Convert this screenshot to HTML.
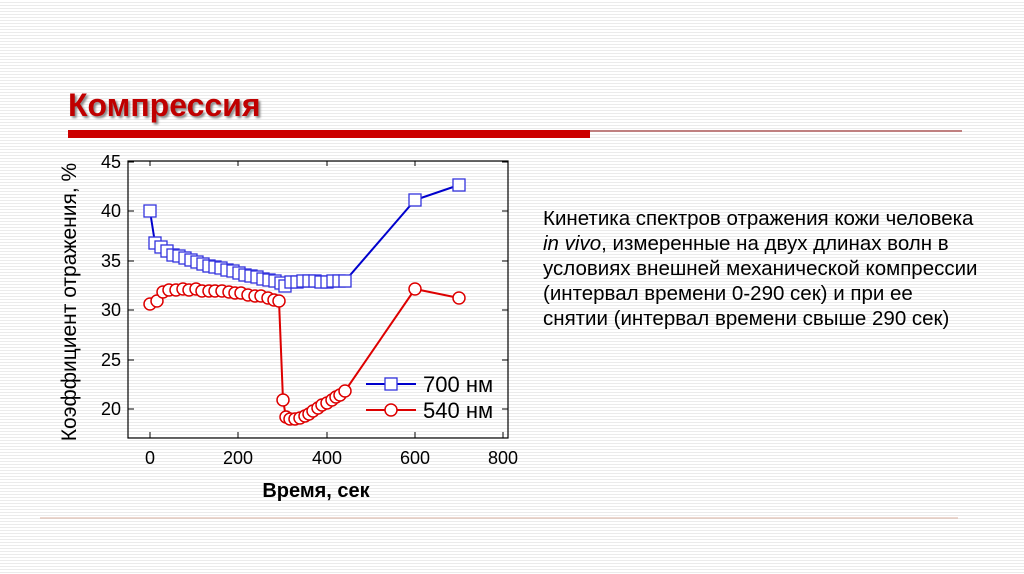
<!DOCTYPE html>
<html><head><meta charset="utf-8"><style>
body{margin:0;width:1024px;height:574px;overflow:hidden;background:repeating-linear-gradient(#ffffff 0 2px,#ebebeb 2px 3px);font-family:"Liberation Sans",sans-serif;}
</style></head><body>
<svg width="1024" height="574" xmlns="http://www.w3.org/2000/svg" style="position:absolute;left:0;top:0">
<text x="68" y="116" font-family="Liberation Sans, sans-serif" font-weight="bold" font-size="32" fill="#c00000" style="text-shadow:2px 2px 2px #888">Компрессия</text>
<rect x="68" y="130" width="522" height="8" fill="#cc0000"/>
<rect x="590" y="130" width="372" height="2" fill="#c08080"/>
<line x1="40" y1="518" x2="958" y2="518" stroke="#d9b0a0" stroke-width="1"/>
<rect x="128" y="161" width="380" height="277" fill="none" stroke="#000" stroke-width="1.2"/>
<g stroke="#000" stroke-width="1">
<line x1="150" y1="438" x2="150" y2="432"/><line x1="238" y1="438" x2="238" y2="432"/><line x1="327" y1="438" x2="327" y2="432"/><line x1="415" y1="438" x2="415" y2="432"/><line x1="503" y1="438" x2="503" y2="432"/>
<line x1="150" y1="161" x2="150" y2="166"/><line x1="238" y1="161" x2="238" y2="166"/><line x1="327" y1="161" x2="327" y2="166"/><line x1="415" y1="161" x2="415" y2="166"/>
<line x1="128" y1="162" x2="134" y2="162"/><line x1="128" y1="211" x2="134" y2="211"/><line x1="128" y1="261" x2="134" y2="261"/><line x1="128" y1="310" x2="134" y2="310"/><line x1="128" y1="360" x2="134" y2="360"/><line x1="128" y1="409" x2="134" y2="409"/>
<line x1="502" y1="162" x2="508" y2="162"/><line x1="502" y1="211" x2="508" y2="211"/><line x1="502" y1="261" x2="508" y2="261"/><line x1="502" y1="310" x2="508" y2="310"/><line x1="502" y1="360" x2="508" y2="360"/><line x1="502" y1="409" x2="508" y2="409"/>
</g>
<g font-size="18" fill="#000" text-anchor="end">
<text x="121" y="168">45</text><text x="121" y="217">40</text><text x="121" y="267">35</text><text x="121" y="316">30</text><text x="121" y="366">25</text><text x="121" y="415">20</text>
</g>
<g font-size="18" fill="#000" text-anchor="middle">
<text x="150" y="464">0</text><text x="238" y="464">200</text><text x="327" y="464">400</text><text x="415" y="464">600</text><text x="503" y="464">800</text>
</g>
<text x="316" y="497" font-size="20" font-weight="bold" text-anchor="middle">Время, сек</text>
<text transform="translate(76,302) rotate(-90)" font-size="21" text-anchor="middle">Коэффициент отражения, %</text>
<polyline fill="none" stroke="#0000cc" stroke-width="2" points="150,211 155,243 159,247 163,250 168,253 172,255 177,256 181,258 186,260 190,262 195,264 199,266 204,267 208,267 213,270 217,271 221,272 226,273 230,275 235,276 239,276 243,277 248,279 252,279 257,280 261,281 266,281 270,282 274,284 279,284 283,286 287,282 292,282 296,282 301,282 305,281 310,281 314,281 318,282 323,282 327,281 332,281 336,281 341,281 345,281 415,200 459,185"/>
<g fill="#fff" stroke="#3333dd" stroke-width="1.3">
<rect x="144" y="205" width="12" height="12"/><rect x="149" y="237" width="12" height="12"/><rect x="155" y="241" width="12" height="12"/><rect x="161" y="245" width="12" height="12"/><rect x="167" y="249" width="12" height="12"/><rect x="173" y="250" width="12" height="12"/><rect x="179" y="252" width="12" height="12"/><rect x="185" y="254" width="12" height="12"/><rect x="191" y="256" width="12" height="12"/><rect x="197" y="258" width="12" height="12"/><rect x="203" y="260" width="12" height="12"/><rect x="209" y="261" width="12" height="12"/><rect x="215" y="262" width="12" height="12"/><rect x="221" y="264" width="12" height="12"/><rect x="227" y="265" width="12" height="12"/><rect x="233" y="267" width="12" height="12"/><rect x="239" y="269" width="12" height="12"/><rect x="245" y="270" width="12" height="12"/><rect x="251" y="271" width="12" height="12"/><rect x="257" y="273" width="12" height="12"/><rect x="263" y="274" width="12" height="12"/><rect x="269" y="275" width="12" height="12"/><rect x="275" y="277" width="12" height="12"/><rect x="279" y="280" width="12" height="12"/><rect x="285" y="276" width="12" height="12"/><rect x="291" y="276" width="12" height="12"/><rect x="297" y="275" width="12" height="12"/><rect x="303" y="275" width="12" height="12"/><rect x="309" y="275" width="12" height="12"/><rect x="315" y="276" width="12" height="12"/><rect x="321" y="276" width="12" height="12"/><rect x="327" y="275" width="12" height="12"/><rect x="333" y="275" width="12" height="12"/><rect x="339" y="275" width="12" height="12"/><rect x="409" y="194" width="12" height="12"/><rect x="453" y="179" width="12" height="12"/>
</g>
<polyline fill="none" stroke="#dd0000" stroke-width="2" points="150,304 157,301 163,292 169,290 176,290 183,289 189,290 196,289 202,291 209,291 215,291 222,291 229,292 235,293 241,293 248,295 255,296 261,296 268,298 274,300 279,301 283,400 286,417 290,419 295,419 300,418 305,416 309,414 313,411 318,408 322,405 327,403 332,400 336,397 340,395 345,391 415,289 459,298"/>
<g fill="#fff" stroke="#dd0000" stroke-width="1.5">
<circle cx="150" cy="304" r="6"/><circle cx="157" cy="301" r="6"/><circle cx="163" cy="292" r="6"/><circle cx="169" cy="290" r="6"/><circle cx="176" cy="290" r="6"/><circle cx="183" cy="289" r="6"/><circle cx="189" cy="290" r="6"/><circle cx="196" cy="289" r="6"/><circle cx="202" cy="291" r="6"/><circle cx="209" cy="291" r="6"/><circle cx="215" cy="291" r="6"/><circle cx="222" cy="291" r="6"/><circle cx="229" cy="292" r="6"/><circle cx="235" cy="293" r="6"/><circle cx="241" cy="293" r="6"/><circle cx="248" cy="295" r="6"/><circle cx="255" cy="296" r="6"/><circle cx="261" cy="296" r="6"/><circle cx="268" cy="298" r="6"/><circle cx="274" cy="300" r="6"/><circle cx="279" cy="301" r="6"/><circle cx="283" cy="400" r="6"/><circle cx="286" cy="417" r="6"/><circle cx="290" cy="419" r="6"/><circle cx="295" cy="419" r="6"/><circle cx="300" cy="418" r="6"/><circle cx="305" cy="416" r="6"/><circle cx="309" cy="414" r="6"/><circle cx="313" cy="411" r="6"/><circle cx="318" cy="408" r="6"/><circle cx="322" cy="405" r="6"/><circle cx="327" cy="403" r="6"/><circle cx="332" cy="400" r="6"/><circle cx="336" cy="397" r="6"/><circle cx="340" cy="395" r="6"/><circle cx="345" cy="391" r="6"/><circle cx="415" cy="289" r="6"/><circle cx="459" cy="298" r="6"/>
</g>
<line x1="366" y1="384" x2="416" y2="384" stroke="#0000cc" stroke-width="2"/>
<rect x="385" y="378" width="12" height="12" fill="#fff" stroke="#3333dd" stroke-width="1.3"/>
<text x="423" y="392" font-size="22">700 нм</text>
<line x1="366" y1="410" x2="416" y2="410" stroke="#dd0000" stroke-width="2"/>
<circle cx="391" cy="410" r="6" fill="#fff" stroke="#dd0000" stroke-width="1.5"/>
<text x="423" y="418" font-size="22">540 нм</text>
<g font-size="20.5" fill="#000">
<text x="543" y="225">Кинетика спектров отражения кожи человека</text>
<text x="543" y="250"><tspan font-style="italic">in vivo</tspan>, измеренные на двух длинах волн в</text>
<text x="543" y="275">условиях внешней механической компрессии</text>
<text x="543" y="300">(интервал времени 0-290 сек) и при ее</text>
<text x="543" y="325">снятии (интервал времени свыше 290 сек)</text>
</g>
</svg>
</body></html>
